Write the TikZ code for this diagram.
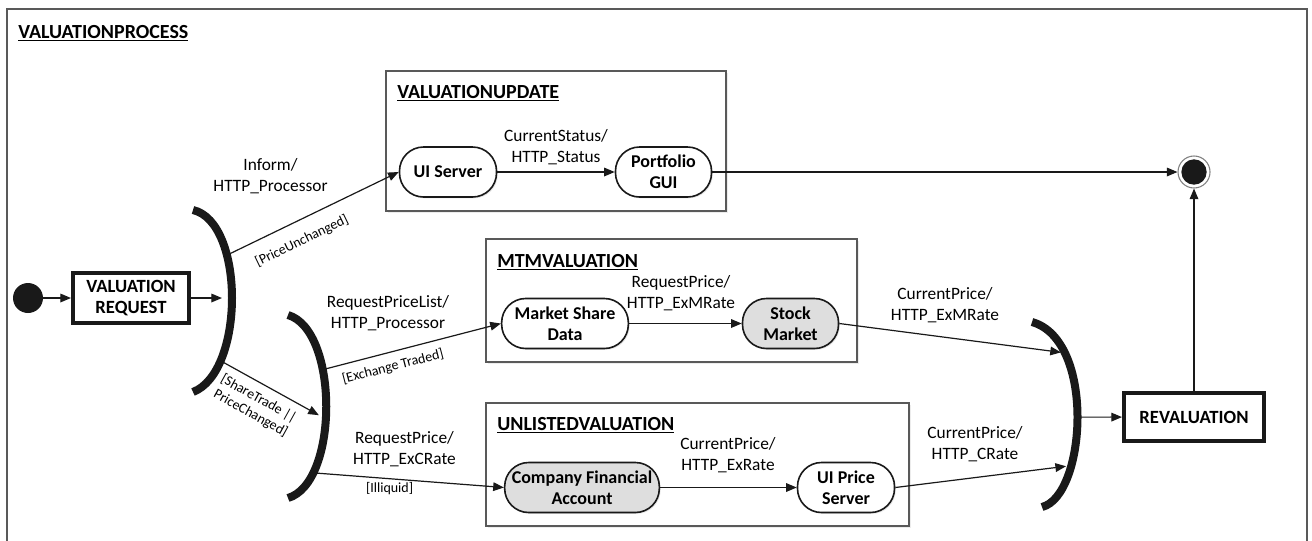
\documentclass[tikz,border=0pt]{standalone}
\usepackage{fontspec}
\setmainfont{Carlito}
\usetikzlibrary{arrows.meta,shadows}
\begin{document}
\begin{tikzpicture}[x=0.75pt,y=-0.75pt,
        flow/.style={draw=black!90,line width=0.9pt,-{Triangle[length=8pt,width=6.5pt]}},
        bar/.style={draw=black!90,line width=6pt},
        lbl/.style={font=\fontsize{13}{15.75}\selectfont,align=center,inner sep=0pt},
        guard/.style={font=\fontsize{10.5}{12.5}\selectfont,align=center,inner sep=1pt},
        grp/.style={draw=black!65,line width=1.5pt,fill=white,anchor=north west,inner sep=0pt,drop shadow={opacity=0.15,shadow xshift=1.5pt,shadow yshift=-1.5pt}},
        grptitle/.style={font=\fontsize{15}{17}\selectfont\bfseries,anchor=base west,inner sep=0pt},
        rstate/.style={draw=black!90,line width=1.2pt,fill=white,rounded corners=18pt,minimum height=37.5pt,inner sep=2pt,align=center,font=\fontsize{13.5}{16}\selectfont\bfseries,drop shadow={opacity=0.2,shadow xshift=1pt,shadow yshift=-1pt}},
        rstategray/.style={rstate,fill=black!13},
        actbox/.style={draw=black!90,line width=3pt,fill=white,align=center,font=\fontsize{14}{15.5}\selectfont\bfseries,drop shadow={opacity=0.2,shadow xshift=1pt,shadow yshift=-1pt}},
        init/.style={circle,fill=black!90,minimum size=22.5pt,inner sep=0pt},
        final/.style={circle,draw=black!50,line width=0.8pt,fill=white,minimum size=24pt,inner sep=0pt,path picture={\fill[black!90] (path picture bounding box.center) circle (9.5pt);}}
    ]
    \useasboundingbox (0,0) rectangle (1312,540);
    \draw[draw=black!65,line width=1.5pt] (7,560) -- (7,9) -- (1307,9) -- (1307,560);
    \node[grptitle] (proctitle) at (18,38.5) {\underline{VALUATIONPROCESS}};

    \node[grp,minimum width=255pt,minimum height=105pt] (upd) at (385,70) {};
    \node[grp,minimum width=278.25pt,minimum height=92.25pt] (mtm) at (485,238) {};
    \node[grp,minimum width=317.25pt,minimum height=92.25pt] (unl) at (485,402) {};
    \node[grptitle] (updtitle) at (397,98.5) {\underline{VALUATIONUPDATE}};
    \node[grptitle] (mtmtitle) at (497,267.5) {\underline{MTMVALUATION}};
    \node[grptitle] (unltitle) at (497,430.5) {\underline{UNLISTEDVALUATION}};

    \draw[bar] (193,210) .. controls (245,222) and (245,372) .. (193,392)
        coordinate[pos=0.32] (f1a) coordinate[pos=0.5] (f1in) coordinate[pos=0.77] (f1b);
    \draw[bar] (288,315) .. controls (339,330) and (339,483) .. (288,498)
        coordinate[pos=0.35] (f2a) coordinate[pos=0.55] (f2in) coordinate[pos=0.79] (f2b);
    \draw[bar] (1032,322) .. controls (1096,340) and (1086,496) .. (1042,507)
        coordinate[pos=0.23] (j1a) coordinate[pos=0.5] (j1out) coordinate[pos=0.7] (j1b);

    \node[init] (start) at (28,298) {};
    \node[actbox,minimum width=87pt,minimum height=37.5pt] (vreq) at (131,298) {VALUATION\\REQUEST};
    \node[rstate,minimum width=72.75pt] (ui) at (448,172) {UI Server};
    \node[rstate,minimum width=72pt] (pg) at (663.5,172) {Portfolio\\GUI};
    \node[rstate,minimum width=95pt] (msd) at (565,323.5) {Market Share\\Data};
    \node[rstategray,minimum width=72pt] (sm) at (790.5,323.5) {Stock\\Market};
    \node[rstategray,minimum width=116pt] (cfa) at (582,487.5) {Company Financial\\Account};
    \node[rstate,minimum width=72.75pt] (ups) at (846,487.5) {UI Price\\Server};
    \node[actbox,minimum width=105pt,minimum height=36pt] (reval) at (1194,417) {REVALUATION};
    \node[final] (end) at (1194,172) {};

    \draw[flow] (start) -- (vreq);
    \draw[flow,shorten >=7.5pt] (vreq) -- (f1in);
    \draw[flow] (f1a) -- (ui.west) node[guard,sloped,below=9pt,pos=0.385] {[PriceUnchanged]};
    \draw[flow,shorten >=6pt] (f1b) -- (f2in) node[guard,sloped,below=5pt,pos=0.43] {[ShareTrade ||\\PriceChanged]};
    \draw[flow] (f2a) -- (msd.west) node[guard,sloped,below=5pt,pos=0.373] {[Exchange Traded]};
    \draw[flow] (f2b) -- (cfa.west) node[guard,below=1pt,pos=0.4] {[Illiquid]};
    \draw[flow] (ui) -- (pg);
    \draw[flow] (msd) -- (sm);
    \draw[flow] (cfa) -- (ups);
    \draw[flow] (pg) -- (end);
    \draw[flow,shorten >=3pt] (sm.east) -- (j1a);
    \draw[flow,shorten >=4pt] (ups.east) -- (j1b);
    \draw[flow] (j1out) -- (reval);
    \draw[flow] (reval) -- (end);

    \node[lbl] (l-inform) at (270.5,176.5) {Inform/\\HTTP\_Processor};
    \node[lbl] (l-status) at (556,147) {CurrentStatus/\\HTTP\_Status};
    \node[lbl] (l-list) at (388,313.5) {RequestPriceList/\\HTTP\_Processor};
    \node[lbl] (l-exm) at (681,293.5) {RequestPrice/\\HTTP\_ExMRate};
    \node[lbl] (l-exc) at (404.5,449) {RequestPrice/\\HTTP\_ExCRate};
    \node[lbl] (l-exrate) at (728,455.5) {CurrentPrice/\\HTTP\_ExRate};
    \node[lbl] (l-cexm) at (945,305.5) {CurrentPrice/\\HTTP\_ExMRate};
    \node[lbl] (l-crate) at (975,444) {CurrentPrice/\\HTTP\_CRate};
\end{tikzpicture}
\end{document}
